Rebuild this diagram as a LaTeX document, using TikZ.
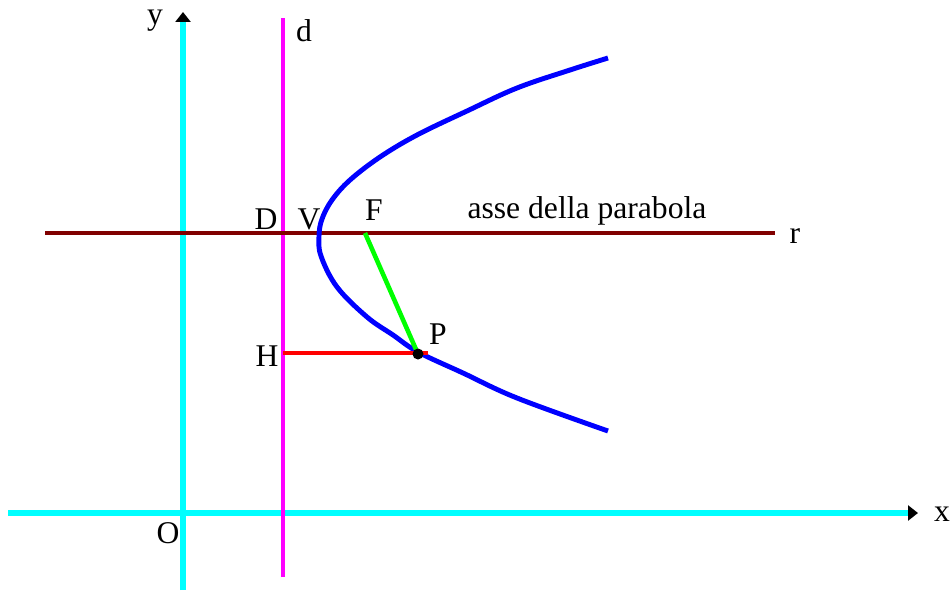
\documentclass[tikz,border=0pt]{standalone}
\usepackage{fontspec}
\setmainfont{Liberation Serif}
\usetikzlibrary{arrows.meta}
\definecolor{axiscyan}{RGB}{0,255,255}
\definecolor{dirmagenta}{RGB}{255,0,255}
\definecolor{axismaroon}{RGB}{128,0,0}
\definecolor{curveblue}{RGB}{0,0,255}
\definecolor{segred}{RGB}{255,0,0}
\definecolor{seggreen}{RGB}{0,255,0}
\tikzset{
    axis_cyan/.style={
        draw=axiscyan, line width=2.9pt,
        -{Triangle[length=0.2cm, width=0.3cm, color=black]}
    },
    line_magenta/.style={draw=dirmagenta, line width=2.6pt},
    line_maroon/.style={draw=axismaroon, line width=2.6pt},
    curve_blue/.style={draw=curveblue, line width=2.8pt, line join=round},
    seg_red/.style={draw=segred, line width=2.8pt},
    seg_green/.style={draw=seggreen, line width=2.6pt},
    lbl/.style={font=\fontsize{18}{20}\selectfont, inner sep=0pt, text=black}
}
\begin{document}
\begin{tikzpicture}[x=0.02cm, y=-0.02cm]

    \useasboundingbox (0,0) rectangle (950,592);

    % points of the figure
    \coordinate (ybot) at (183,590);
    \coordinate (ytop) at (183,12);
    \coordinate (xleft) at (8,513);
    \coordinate (xright) at (918,513);
    \coordinate (dtop) at (283,18);
    \coordinate (dbot) at (283,577);
    \coordinate (rleft) at (45,233);
    \coordinate (rright) at (775,233);
    \coordinate (F) at (365,233);
    \coordinate (P) at (418,354);
    \coordinate (H) at (283,353);
    \coordinate (Hend) at (428,353);

    % axes and lines
    \draw[axis_cyan] (ybot) -- (ytop);
    \draw[axis_cyan] (xleft) -- (xright);
    \draw[line_magenta] (dbot) -- (dtop);
    \draw[line_maroon] (rleft) -- (rright);

    % parabola
    \draw[curve_blue] plot[smooth, tension=0.6] coordinates {
        (608,58) (570,70) (517,88) (467,111) (417,135) (380,157)
        (350,180) (332,200) (322,219) (319,236) (321,256) (337,287)
        (367,317) (393,335) (418,352) (463,373) (517,398) (608,431)};

    % segments
    \draw[seg_red] (H) -- (Hend);
    \draw[seg_green] (F) -- (P);
    \fill[black] (P) circle (5.5);

    % labels
    \node[lbl] (ylbl) at (155,21) {y};
    \node[lbl] (xlbl) at (942,514) {x};
    \node[lbl] (Olbl) at (168,533) {O};
    \node[lbl] (dlbl) at (304,31) {d};
    \node[lbl] (Dlbl) at (266,219) {D};
    \node[lbl] (Vlbl) at (309,219) {V};
    \node[lbl] (Flbl) at (374,210) {F};
    \node[lbl] (asse) at (587,211) {asse della parabola};
    \node[lbl] (rlbl) at (795,236) {r};
    \node[lbl] (Hlbl) at (267,356) {H};
    \node[lbl] (Plbl) at (438,334) {P};

\end{tikzpicture}
\end{document}
